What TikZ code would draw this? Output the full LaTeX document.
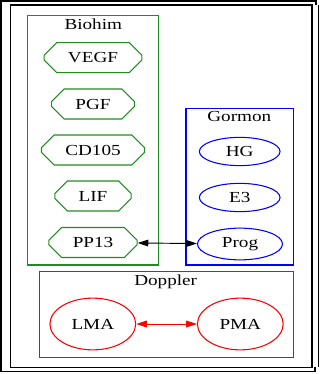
\documentclass[tikz,border=0pt]{standalone}
\usepackage{fontspec}
\setmainfont[FakeStretch=1.25]{Liberation Serif}
\usetikzlibrary{shapes.misc, shapes.geometric, arrows.meta}

\begin{document}
\begin{tikzpicture}[x=0.75pt, y=-0.75pt, font=\fontsize{11.5}{13}\selectfont]
    % Define colours
    \definecolor{biohimColour}{HTML}{228B22}
    \definecolor{gormonColour}{HTML}{0000FF}
    \definecolor{dopplerColour}{HTML}{FF0000}

    \tikzset{
        octa/.style={draw=biohimColour, line width=0.8pt, chamfered rectangle,
            chamfered rectangle xsep=15pt, chamfered rectangle ysep=5.6pt,
            inner xsep=14pt, inner ysep=0pt, minimum height=22.5pt},
        oval/.style={ellipse, line width=0.8pt, inner sep=0pt},
        link/.style={{Triangle[length=8pt,width=5pt]}-{Triangle[length=8pt,width=5pt]}, line width=0.7pt}
    }

    \useasboundingbox (0,0) rectangle (321,374);

    % Draw frames
    \draw[line width=1pt] (316,5) -- (316,1) -- (1,1) -- (1,371.5) -- (315,371.5) -- (315,367.3);
    \draw[line width=1pt] (318.7,5) -- (318.7,367.3);
    \draw[line width=1pt] (10.7,5) rectangle (312,367.3);

    % Draw clusters
    \draw[biohimColour, line width=1pt] (27.3,15.7) rectangle (158.7,265);
    \node[anchor=base] (biohimTitle) at (93.3,29.3) {Biohim};
    \draw[gormonColour, line width=1pt] (186,108.3) rectangle (293.3,265);
    \node[anchor=base] (gormonTitle) at (239.3,121.7) {Gormon};
    \draw[dopplerColour, line width=1pt] (39.3,271.7) rectangle (293.3,357.7);
    \node[anchor=base] (dopplerTitle) at (165.7,285) {Doppler};

    % Biohim nodes
    \foreach \name/\y in {VEGF/57.7, PGF/104, CD105/150, LIF/196, PP13/242.5}
        \node[octa] (\name) at (93,\y) {\name};

    % Gormon nodes
    \foreach \name/\y in {HG/151.5, E3/197.5}
        \node[oval, draw=gormonColour, minimum width=60.5pt, minimum height=21.2pt] (\name) at (239.7,\y) {\name};
    \node[oval, draw=gormonColour, minimum width=63.75pt, minimum height=23.8pt] (Prog) at (240,244) {Prog};

    % Doppler nodes
    \node[oval, draw=dopplerColour, minimum width=64.3pt, minimum height=38.8pt] (LMA) at (92.8,324) {LMA};
    \node[oval, draw=dopplerColour, minimum width=64.3pt, minimum height=38.8pt] (PMA) at (240.3,324) {PMA};

    % Draw links
    \draw[link] (PP13) -- (Prog);
    \draw[link, dopplerColour] (LMA) -- (PMA);

\end{tikzpicture}
\end{document}
